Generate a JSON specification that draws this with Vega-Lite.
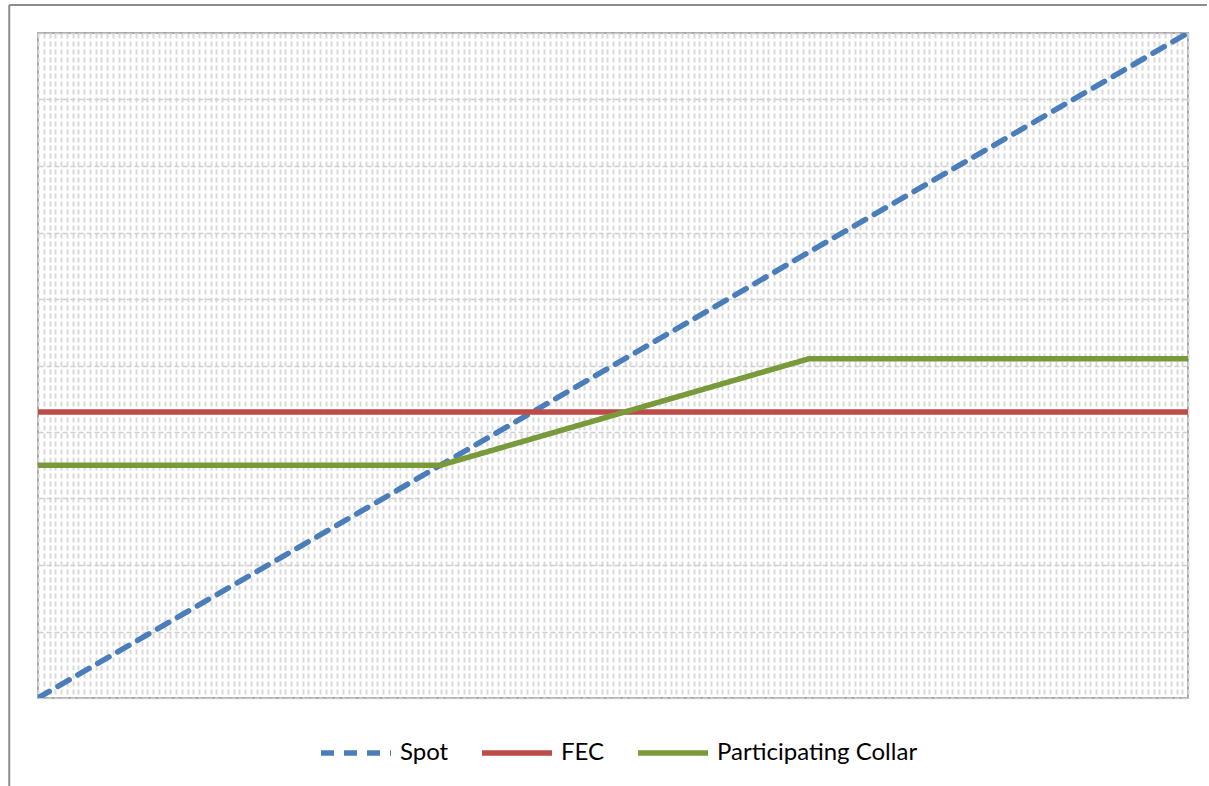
{
  "$schema": "https://vega.github.io/schema/vega-lite/v6.json",
  "width": 1150,
  "height": 665,
  "autosize": {"type": "none"},
  "padding": {"left": 38, "top": 33, "right": 21, "bottom": 88},
  "background": "white",
  "config": {
    "view": {"stroke": "#a6a6a6", "strokeWidth": 2},
    "font": "Lato",
    "axisX": {"title": null, "labels": false, "ticks": false, "domain": false, "grid": true, "tickCount": 200, "gridColor": "#d9d9d9", "gridWidth": 2, "gridDash": [5, 3]},
    "axisY": {"title": null, "labels": false, "ticks": false, "domain": false, "grid": true, "tickCount": 10, "gridColor": "#cfcfcf", "gridWidth": 1.5, "gridDash": [5, 3]}
  },
  "datasets": {
    "series": [
      {"series": "Spot", "x": 0, "y": 0},
      {"series": "Spot", "x": 200, "y": 10},
      {"series": "FEC", "x": 0, "y": 4.3},
      {"series": "FEC", "x": 200, "y": 4.3},
      {"series": "Participating Collar", "x": 0, "y": 3.5},
      {"series": "Participating Collar", "x": 70, "y": 3.5},
      {"series": "Participating Collar", "x": 134, "y": 5.1},
      {"series": "Participating Collar", "x": 200, "y": 5.1}
    ],
    "frame": [
      {"part": "left", "x": -5, "y": -3},
      {"part": "left", "x": -5, "y": 10.42},
      {"part": "top", "x": -5, "y": 10.42},
      {"part": "top", "x": 203.3, "y": 10.42}
    ]
  },
  "layer": [
    {
      "data": {"name": "frame"},
      "mark": {"type": "line", "color": "#8c8c8c", "strokeWidth": 2, "clip": false},
      "encoding": {
        "x": {"field": "x", "type": "quantitative", "scale": {"domain": [0, 200], "nice": false, "zero": false}},
        "y": {"field": "y", "type": "quantitative", "scale": {"domain": [0, 10], "nice": false, "zero": false}},
        "detail": {"field": "part"}
      }
    },
    {
      "data": {"name": "series"},
      "mark": {"type": "line", "strokeWidth": 5.5, "strokeCap": "round", "clip": true},
      "encoding": {
        "x": {"field": "x", "type": "quantitative", "scale": {"domain": [0, 200], "nice": false, "zero": false}},
        "y": {"field": "y", "type": "quantitative", "scale": {"domain": [0, 10], "nice": false, "zero": false}},
        "color": {
          "field": "series", "type": "nominal",
          "scale": {"domain": ["Spot", "FEC", "Participating Collar"], "range": ["#4a7ebb", "#be4b48", "#789a3a"]},
          "legend": {
            "title": null, "orient": "none", "direction": "horizontal",
            "legendX": 280, "legendY": 682,
            "symbolType": "stroke", "symbolSize": 4900, "symbolStrokeWidth": 5.5,
            "labelFont": "Lato", "labelFontSize": 24, "labelColor": "#000000", "labelLimit": 0,
            "labelOffset": 6, "columnPadding": 22, "symbolOffset": 0
          }
        },
        "strokeDash": {
          "field": "series", "type": "nominal",
          "scale": {"domain": ["Spot", "FEC", "Participating Collar"], "range": [[13, 10], [1, 0], [1, 0]]},
          "legend": {
            "title": null, "orient": "none", "direction": "horizontal",
            "legendX": 280, "legendY": 682,
            "symbolType": "stroke", "symbolSize": 4900, "symbolStrokeWidth": 5.5,
            "labelFont": "Lato", "labelFontSize": 24, "labelColor": "#000000", "labelLimit": 0,
            "labelOffset": 6, "columnPadding": 22, "symbolOffset": 0
          }
        }
      }
    }
  ]
}
